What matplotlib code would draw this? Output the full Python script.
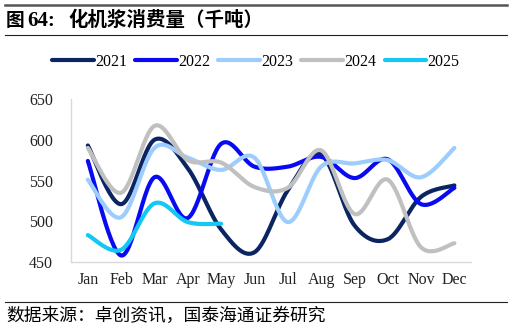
import numpy as np
import matplotlib.pyplot as plt
from matplotlib.lines import Line2D

months = ['Jan', 'Feb', 'Mar', 'Apr', 'May', 'Jun', 'Jul', 'Aug', 'Sep', 'Oct', 'Nov', 'Dec']
y2021 = [593, 521, 600, 565, 490, 462, 538, 582, 495, 478, 530, 544]
y2022 = [574, 458, 554, 504, 595, 567, 567, 579, 553, 576, 521, 541]
y2023 = [551, 505, 590, 578, 563, 578, 499, 567, 571, 575, 554, 590]
y2024 = [590, 535, 617, 575, 572, 542, 541, 587, 509, 551, 468, 473]
y2025 = [483, 465, 522, 499, 497]

series = [('2021', y2021, '#0b2462'), ('2022', y2022, '#0a0af2'),
          ('2023', y2023, '#9dcdfc'), ('2024', y2024, '#c0c0c0'),
          ('2025', y2025, '#13c8f2')]

serif = ['Liberation Serif', 'Noto Sans CJK SC']
cjk = ['Noto Sans CJK SC', 'DejaVu Sans']


def smooth(vals, n=30):
    # Excel-style smoothed line (Catmull-Rom bezier)
    p = np.array(vals, dtype=float)
    x = np.arange(len(p), dtype=float)
    xs, ys = [], []
    for i in range(len(p) - 1):
        p0 = p[i - 1] if i > 0 else p[i]
        p3 = p[i + 2] if i + 2 < len(p) else p[i + 1]
        x0 = x[i - 1] if i > 0 else x[i]
        x3 = x[i + 2] if i + 2 < len(p) else x[i + 1]
        c1y = p[i] + (p[i + 1] - p0) / 6
        c2y = p[i + 1] - (p3 - p[i]) / 6
        c1x = x[i] + (x[i + 1] - x0) / 6
        c2x = x[i + 1] - (x3 - x[i]) / 6
        t = np.linspace(0, 1, n)
        b = [(1 - t) ** 3, 3 * (1 - t) ** 2 * t, 3 * (1 - t) * t ** 2, t ** 3]
        xs.append(b[0] * x[i] + b[1] * c1x + b[2] * c2x + b[3] * x[i + 1])
        ys.append(b[0] * p[i] + b[1] * c1y + b[2] * c2y + b[3] * p[i + 1])
    return np.concatenate(xs), np.concatenate(ys)


fig = plt.figure(figsize=(5.12, 3.30), dpi=100)
ax = fig.add_axes([0.139, 0.206, 0.781, 0.494])

handles = []
for name, vals, color in series:
    sx, sy = smooth(vals)
    ax.plot(sx, sy, color=color, lw=3, solid_capstyle='round')
    handles.append(Line2D([], [], color=color, lw=3, solid_capstyle='round', label=name))

ax.set_xlim(-0.5, 11.5)
ax.set_ylim(450, 650)
ax.set_yticks([450, 500, 550, 600, 650])
ax.set_xticks(range(12))
ax.set_xticklabels(months)
for lab in ax.get_xticklabels() + ax.get_yticklabels():
    lab.set_family(serif)
    lab.set_fontsize(11.5)
    lab.set_color('#222222')
ax.tick_params(length=0)
ax.tick_params(axis='x', pad=7)
ax.tick_params(axis='y', pad=13)
for s in ['top', 'right']:
    ax.spines[s].set_visible(False)
for s in ['left', 'bottom']:
    ax.spines[s].set_color('#d9d9d9')
    ax.spines[s].set_linewidth(1)

leg = fig.legend(handles=handles, loc='center', bbox_to_anchor=(0.5, 0.812), ncol=5,
                 frameon=False, handlelength=2.6, handletextpad=0.1, columnspacing=0.5,
                 prop={'family': serif, 'size': 11.5})

# header and footer rules
fig.add_artist(Line2D([0.01, 0.99], [0.984, 0.984], color='#555555', lw=1.8))
fig.add_artist(Line2D([0.01, 0.99], [0.895, 0.895], color='#222222', lw=0.8))
fig.add_artist(Line2D([0.01, 0.99], [0.085, 0.085], color='#222222', lw=0.8))

fig.text(0.012, 0.937, '图', family=cjk, fontsize=13.5, weight='bold', va='center')
fig.text(0.053, 0.937, '64:', family=serif, fontsize=15, weight='bold', va='center')
fig.text(0.133, 0.937, '化机浆消费量（千吨）', family=cjk, fontsize=14, weight='bold', va='center')
fig.text(0.012, 0.042, '数据来源：卓创资讯，国泰海通证券研究', family=cjk, fontsize=12.8, va='center')

fig.savefig('out.png', dpi=100)
